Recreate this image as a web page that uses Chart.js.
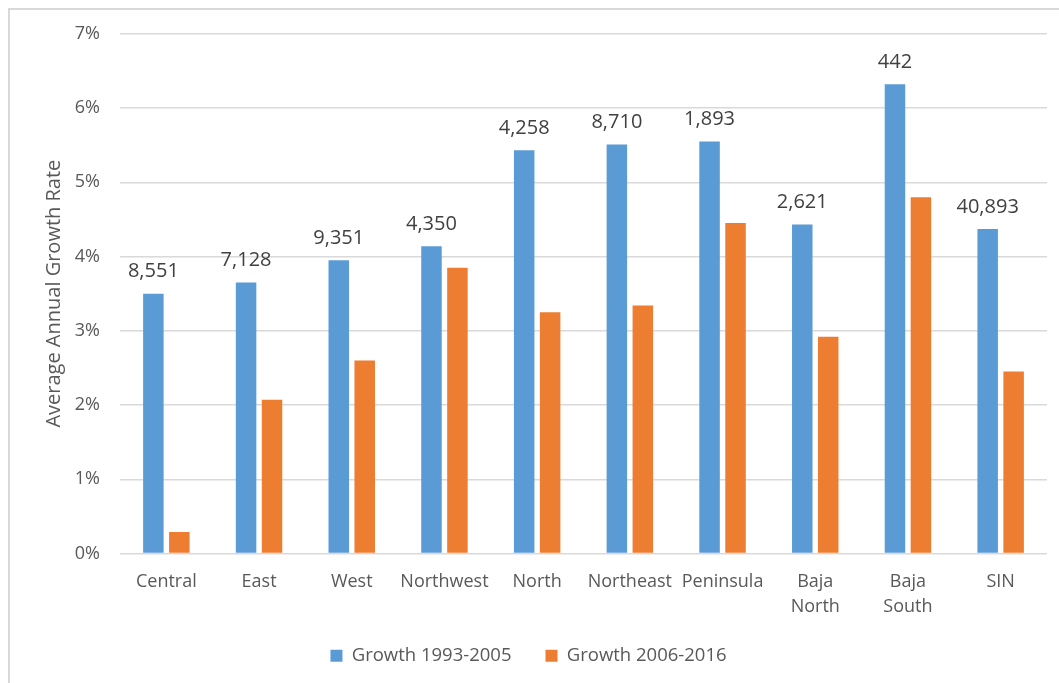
<!DOCTYPE html>
<html>
<head>
<meta charset="utf-8">
<script src="https://cdn.jsdelivr.net/npm/chart.js@4/dist/chart.umd.min.js"></script>
<style>
  body { margin: 0; background: #fff; overflow: hidden; }
  #frame { position: absolute; left: 8px; top: 8px; width: 1060px; height: 690px; border: 2px solid #d9d9d9; }
  #wrap { position: absolute; left: 10px; top: 3px; width: 1049px; height: 680px; }
</style>
</head>
<body>
<div id="frame"></div>
<div id="wrap"><canvas id="chart"></canvas></div>
<script>
var regions = ['Central', 'East', 'West', 'Northwest', 'North', 'Northeast', 'Peninsula', ['Baja', 'North'], ['Baja', 'South'], 'SIN'];
var growth9305 = [3.50, 3.65, 3.95, 4.14, 5.43, 5.51, 5.55, 4.43, 6.32, 4.37];
var growth0616 = [0.29, 2.07, 2.60, 3.85, 3.25, 3.34, 4.45, 2.92, 4.80, 2.45];
var barLabels = ['8,551', '7,128', '9,351', '4,350', '4,258', '8,710', '1,893', '2,621', '442', '40,893'];
var seriesNames = ['Growth 1993-2005', 'Growth 2006-2016'];

var fontFam = "'Open Sans', 'Liberation Sans', sans-serif";

// numbers drawn above the blue bars
var topLabels = {
  id: 'topLabels',
  afterDatasetsDraw: function (chart) {
    var ctx = chart.ctx;
    var meta = chart.getDatasetMeta(0);
    ctx.save();
    ctx.font = '20px ' + fontFam;
    ctx.fillStyle = '#404040';
    ctx.textAlign = 'center';
    ctx.textBaseline = 'middle';
    meta.data.forEach(function (bar, i) {
      ctx.fillText(barLabels[i], bar.x, bar.y - 22);
    });
    ctx.restore();
  }
};

new Chart(document.getElementById('chart').getContext('2d'), {
  type: 'bar',
  data: {
    labels: regions,
    datasets: [{
      label: seriesNames[0],
      data: growth9305,
      backgroundColor: '#5B9BD5',
      categoryPercentage: 0.56,
      barPercentage: 0.79
    }, {
      label: seriesNames[1],
      data: growth0616,
      backgroundColor: '#ED7D31',
      categoryPercentage: 0.56,
      barPercentage: 0.79
    }]
  },
  plugins: [topLabels],
  options: {
    responsive: true,
    maintainAspectRatio: false,
    animation: false,
    layout: { padding: { top: 12, right: 12, bottom: 8, left: 0 } },
    plugins: {
      tooltip: { enabled: false },
      legend: {
        position: 'bottom',
        labels: {
          font: { size: 18.5, family: fontFam },
          color: '#595959',
          boxWidth: 12,
          boxHeight: 12,
          padding: 34
        }
      }
    },
    scales: {
      x: {
        grid: { display: false },
        border: { display: false },
        ticks: {
          font: { size: 18, family: fontFam, lineHeight: 1.4 },
          color: '#595959',
          padding: 8,
          maxRotation: 0,
          autoSkip: false
        },
        afterFit: function (s) { s.height = 59; }
      },
      y: {
        min: 0,
        max: 7,
        grid: { color: '#d9d9d9', lineWidth: 1.5, drawTicks: false },
        border: { display: false },
        ticks: {
          stepSize: 1,
          font: { size: 18, family: fontFam },
          color: '#595959',
          padding: 20,
          callback: function (v) { return v + '%'; }
        },
        title: {
          display: true,
          text: 'Average Annual Growth Rate',
          font: { size: 20, family: fontFam },
          color: '#595959',
          padding: { top: 32, bottom: 0 }
        },
        afterFit: function (s) { s.width = 110; }
      }
    }
  }
});
</script>
</body>
</html>
